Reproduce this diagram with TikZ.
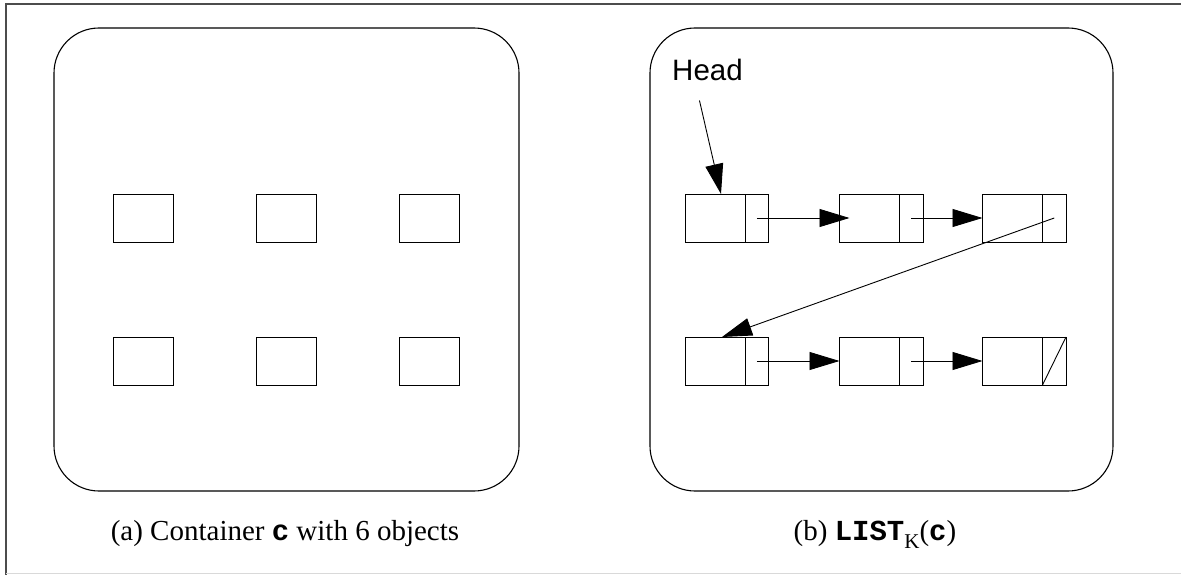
\documentclass[tikz,border=0pt]{standalone}
\usepackage{fontspec}
\setmainfont{Liberation Serif}
\newfontfamily\headfont{Liberation Sans}
\newfontfamily\codefont{Liberation Mono}
\usetikzlibrary{arrows.meta}
\tikzset{
  container/.style={draw, line width=1.1pt, rounded corners=45pt, inner sep=0pt, minimum height=463pt},
  obj/.style={draw, line width=0.9pt, minimum width=60pt, minimum height=48pt, inner sep=0pt, outer sep=0pt},
  ptrcell/.style={draw, line width=0.9pt, minimum width=23.5pt, minimum height=48pt, inner sep=0pt, outer sep=0pt, anchor=west},
  link/.style={line width=0.9pt, -{Triangle[length=30pt,width=18pt]}},
  caption/.style={font=\fontsize{29}{29}\selectfont, anchor=base, inner sep=0pt},
}
\begin{document}
\begin{tikzpicture}[x=1pt,y=-1pt]
\useasboundingbox (0,0) rectangle (1181,575);
% frame
\draw[line width=1.2pt, black!70] (6,575) -- (6,4) -- (1181,4);
\draw[line width=1pt, black!15] (6,573.5) -- (1181,573.5);
% containers
\node[container, minimum width=465pt] (A) at (286.5,259.5) {};
\node[container, minimum width=463pt] (B) at (881.5,259.5) {};
% (a) six objects
\node[obj] (o1) at (143,218) {};
\node[obj] (o2) at (286.5,218) {};
\node[obj] (o3) at (429,218) {};
\node[obj] (o4) at (143,361) {};
\node[obj] (o5) at (286.5,361) {};
\node[obj] (o6) at (429,361) {};
% (b) list
\node[obj] (d1) at (715,218) {};
\node[ptrcell] (p1) at (d1.east) {};
\node[obj] (d2) at (869.5,218) {};
\node[ptrcell] (p2) at (d2.east) {};
\node[obj] (d3) at (1012.5,218) {};
\node[ptrcell] (p3) at (d3.east) {};
\node[obj] (d4) at (715,361) {};
\node[ptrcell] (p4) at (d4.east) {};
\node[obj] (d5) at (869.5,361) {};
\node[ptrcell] (p5) at (d5.east) {};
\node[obj] (d6) at (1012.5,361) {};
\node[ptrcell] (p6) at (d6.east) {};
\node[anchor=base west, inner sep=0pt, font=\headfont\fontsize{29.5}{29.5}\selectfont] (head) at (672,81) {Head};
\draw[link] ([xshift=-8pt,yshift=-19pt]head.south) -- ([xshift=6pt]d1.north);
\draw[link] (p1.center) -- ([xshift=10pt]d2.west);
\draw[link] (p2.center) -- (d3.west);
\draw[link] (p3.center) -- ([xshift=7pt]d4.north);
\draw[link] (p4.center) -- (d5.west);
\draw[link] (p5.center) -- (d6.west);
\draw[line width=0.9pt] (p6.south west) -- (p6.north east);
% captions
\node[caption] (capA) at (285,540) {(a) Container {\codefont\bfseries c} with 6 objects};
\node[caption] (capB) at (875,540) {(b) {\codefont\bfseries LIST}\raisebox{-8pt}{\fontsize{21}{21}\selectfont K}({\codefont\bfseries c})};
\end{tikzpicture}
\end{document}
